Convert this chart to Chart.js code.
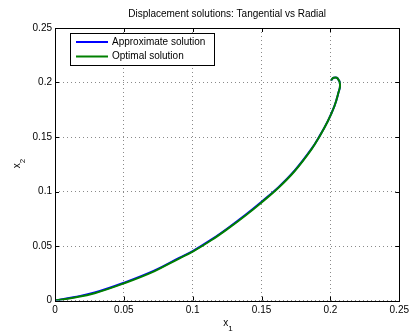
<!DOCTYPE html>
<html>
<head>
<meta charset="utf-8">
<script src="https://cdn.jsdelivr.net/npm/chart.js@4"></script>
<style>
  html, body { margin: 0; padding: 0; background: #fff; }
  canvas { display: block; }
</style>
</head>
<body>
<canvas id="chart" width="413" height="336"></canvas>
<script>
const TITLE = "Displacement solutions: Tangential vs Radial";
const X_LABEL = ["x", "1"];
const Y_LABEL = ["x", "2"];

const xTicks = [0, 0.05, 0.1, 0.15, 0.2, 0.25];
const xTickLabels = ["0", "0.05", "0.1", "0.15", "0.2", "0.25"];
const yTicks = [0, 0.05, 0.1, 0.15, 0.2, 0.25];
const yTickLabels = ["0", "0.05", "0.1", "0.15", "0.2", "0.25"];

// trajectory of the optimal solution
const xOptimal = [0, 0.0144, 0.0288, 0.05, 0.072, 0.0901, 0.1, 0.114, 0.1261, 0.1381, 0.15, 0.1621,
    0.1741, 0.1861, 0.1921, 0.1981, 0.2029, 0.2058, 0.207, 0.2053, 0.2024, 0.2005];
const yOptimal = [0, 0.0027, 0.0067, 0.0157, 0.0268, 0.0385, 0.0448, 0.0557, 0.0664, 0.0778, 0.090, 0.1032,
    0.1188, 0.1384, 0.1505, 0.1644, 0.1782, 0.1905, 0.198, 0.2037, 0.2043, 0.2021];

// trajectory of the approximate solution
const xApprox = [0, 0.0144, 0.0288, 0.05, 0.072, 0.0901, 0.1, 0.114, 0.1261, 0.1381, 0.15, 0.1621,
    0.1741, 0.1861, 0.1921, 0.1981, 0.2029, 0.2058, 0.207, 0.2053, 0.2024, 0.2005];
const yApprox = [0, 0.0032, 0.0073, 0.0163, 0.0274, 0.0391, 0.0454, 0.0563, 0.067, 0.0784, 0.0906, 0.1038,
    0.1193, 0.1388, 0.1508, 0.1646, 0.1783, 0.1905, 0.198, 0.2037, 0.2043, 0.2021];

const FONT = "'Liberation Sans', Arial, Helvetica, sans-serif";
const BLUE = "#0000ff";
const GREEN = "#008000";

const toPoints = (xs, ys) => xs.map((x, i) => ({ x, y: ys[i] }));

// frame, inner tick marks, title, axis labels and legend in MATLAB style
const axesDecor = {
    id: "axesDecor",
    afterDraw(chart) {
        const { ctx, chartArea: a, scales } = chart;
        ctx.save();
        ctx.strokeStyle = "#000";
        ctx.lineWidth = 1;

        ctx.beginPath();
        xTicks.forEach(v => {
            const px = Math.round(scales.x.getPixelForValue(v)) + 0.5;
            ctx.moveTo(px, a.bottom); ctx.lineTo(px, a.bottom - 4);
            ctx.moveTo(px, a.top); ctx.lineTo(px, a.top + 4);
        });
        yTicks.forEach(v => {
            const py = Math.round(scales.y.getPixelForValue(v)) + 0.5;
            ctx.moveTo(a.left, py); ctx.lineTo(a.left + 4, py);
            ctx.moveTo(a.right, py); ctx.lineTo(a.right - 4, py);
        });
        ctx.stroke();
        ctx.strokeRect(Math.round(a.left) + 0.5, Math.round(a.top) + 0.5,
            Math.round(a.right - a.left), Math.round(a.bottom - a.top));

        ctx.fillStyle = "#000";
        ctx.textAlign = "center";
        ctx.textBaseline = "middle";
        ctx.font = "10px " + FONT;
        const cx = (a.left + a.right) / 2;
        ctx.fillText(TITLE, cx, 14);

        // x label with subscript
        ctx.textAlign = "left";
        ctx.font = "10px " + FONT;
        const wx = ctx.measureText(X_LABEL[0]).width;
        ctx.fillText(X_LABEL[0], cx - 4, 323);
        ctx.font = "8px " + FONT;
        ctx.fillText(X_LABEL[1], cx - 4 + wx, 329);

        // y label, rotated
        ctx.save();
        ctx.translate(17, (a.top + a.bottom) / 2);
        ctx.rotate(-Math.PI / 2);
        ctx.font = "10px " + FONT;
        const wy = ctx.measureText(Y_LABEL[0]).width;
        ctx.fillText(Y_LABEL[0], -4, 0);
        ctx.font = "8px " + FONT;
        ctx.fillText(Y_LABEL[1], -4 + wy, 6);
        ctx.restore();

        // legend box
        const lx = 70, ly = 33, lw = 144, lh = 32;
        ctx.fillStyle = "#fff";
        ctx.fillRect(lx, ly, lw, lh);
        ctx.strokeRect(lx + 0.5, ly + 0.5, lw, lh);
        ctx.font = "10px " + FONT;
        ctx.textAlign = "left";
        const entries = [chart.data.datasets[0], chart.data.datasets[1]];
        entries.forEach((ds, i) => {
            const y = ly + 9 + i * 14.5;
            ctx.strokeStyle = ds.borderColor;
            ctx.lineWidth = 2;
            ctx.beginPath();
            ctx.moveTo(76, y); ctx.lineTo(108, y);
            ctx.stroke();
            ctx.fillStyle = "#000";
            ctx.fillText(ds.label, 112, y);
        });
        ctx.restore();
    },
};

const gridOpts = {
    color: "#8a8a8a",
    lineWidth: 1,
    drawTicks: false,
};

new Chart(document.getElementById("chart"), {
    type: "scatter",
    data: {
        datasets: [
            {
                label: "Approximate solution",
                data: toPoints(xApprox, yApprox),
                borderColor: BLUE,
                backgroundColor: BLUE,
                showLine: true,
                borderWidth: 2,
                pointRadius: 0,
                tension: 0.4,
                order: 1,
            },
            {
                label: "Optimal solution",
                data: toPoints(xOptimal, yOptimal),
                borderColor: GREEN,
                backgroundColor: GREEN,
                showLine: true,
                borderWidth: 2,
                pointRadius: 0,
                tension: 0.4,
                order: 0,
            },
        ],
    },
    options: {
        responsive: false,
        animation: false,
        devicePixelRatio: 1,
        layout: { padding: { top: 28, right: 11, left: 0, bottom: 0 } },
        plugins: {
            legend: { display: false },
            title: { display: false },
            tooltip: { enabled: false },
        },
        scales: {
            x: {
                type: "linear",
                min: 0,
                max: 0.25,
                afterBuildTicks: s => { s.ticks = xTicks.map(v => ({ value: v })); },
                afterFit: s => { s.height = 35.5; },
                grid: { ...gridOpts },
                border: { display: false, dash: [1, 3] },
                ticks: {
                    color: "#000",
                    font: { family: FONT, size: 10 },
                    padding: 4,
                    maxRotation: 0,
                    callback: (v, i) => xTickLabels[i],
                },
            },
            y: {
                type: "linear",
                min: 0,
                max: 0.25,
                afterBuildTicks: s => { s.ticks = yTicks.map(v => ({ value: v })); },
                afterFit: s => { s.width = 55; },
                grid: { ...gridOpts },
                border: { display: false, dash: [1, 3] },
                ticks: {
                    color: "#000",
                    font: { family: FONT, size: 10 },
                    padding: 3,
                    callback: (v, i) => yTickLabels[i],
                },
            },
        },
    },
    plugins: [axesDecor],
});
</script>
</body>
</html>
